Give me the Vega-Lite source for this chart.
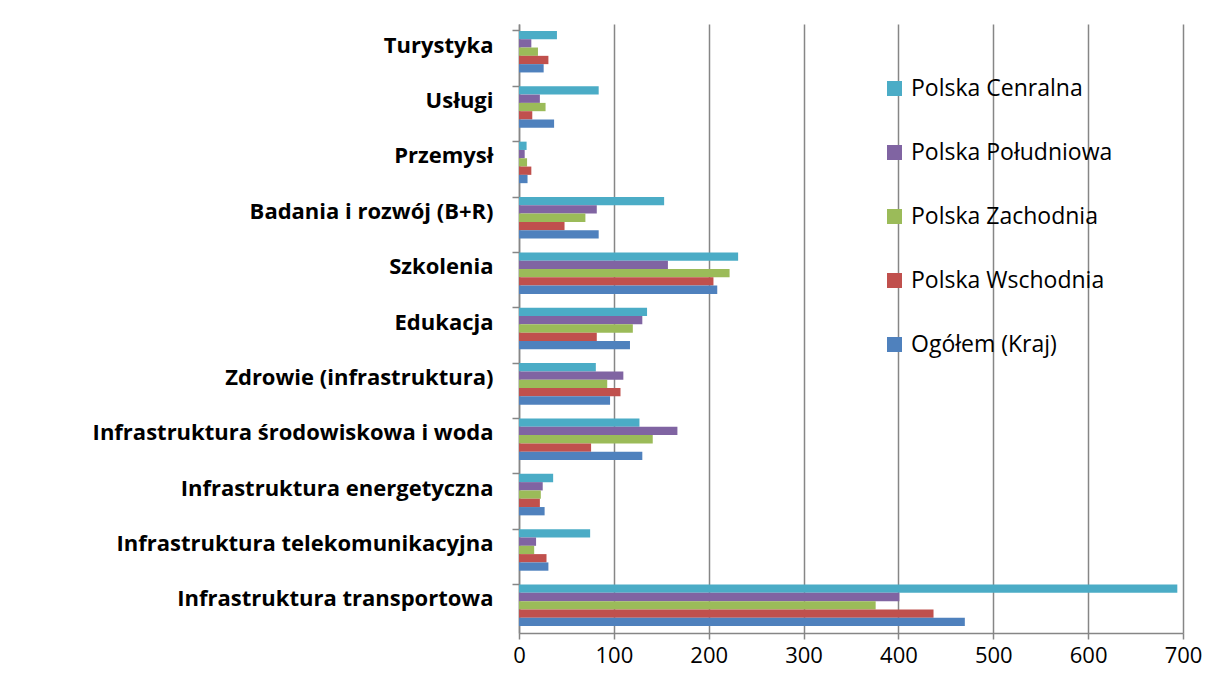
{
  "$schema": "https://vega.github.io/schema/vega-lite/v6.json",
  "width": 664,
  "height": 609,
  "autosize": "none",
  "padding": {"left": 519, "top": 24, "right": 22, "bottom": 45},
  "background": "white",
  "config": {"view": {"stroke": null}, "font": "Open Sans"},
  "data": {"values": [
    {"k": "Turystyka", "r": "Polska Cenralna", "v": 40},
    {"k": "Turystyka", "r": "Polska Południowa", "v": 13},
    {"k": "Turystyka", "r": "Polska Zachodnia", "v": 20},
    {"k": "Turystyka", "r": "Polska Wschodnia", "v": 31},
    {"k": "Turystyka", "r": "Ogółem (Kraj)", "v": 26},
    {"k": "Usługi", "r": "Polska Cenralna", "v": 84},
    {"k": "Usługi", "r": "Polska Południowa", "v": 22},
    {"k": "Usługi", "r": "Polska Zachodnia", "v": 28},
    {"k": "Usługi", "r": "Polska Wschodnia", "v": 14},
    {"k": "Usługi", "r": "Ogółem (Kraj)", "v": 37},
    {"k": "Przemysł", "r": "Polska Cenralna", "v": 8},
    {"k": "Przemysł", "r": "Polska Południowa", "v": 6},
    {"k": "Przemysł", "r": "Polska Zachodnia", "v": 8.5},
    {"k": "Przemysł", "r": "Polska Wschodnia", "v": 13},
    {"k": "Przemysł", "r": "Ogółem (Kraj)", "v": 9},
    {"k": "Badania i rozwój (B+R)", "r": "Polska Cenralna", "v": 153},
    {"k": "Badania i rozwój (B+R)", "r": "Polska Południowa", "v": 82},
    {"k": "Badania i rozwój (B+R)", "r": "Polska Zachodnia", "v": 70},
    {"k": "Badania i rozwój (B+R)", "r": "Polska Wschodnia", "v": 48},
    {"k": "Badania i rozwój (B+R)", "r": "Ogółem (Kraj)", "v": 84},
    {"k": "Szkolenia", "r": "Polska Cenralna", "v": 231},
    {"k": "Szkolenia", "r": "Polska Południowa", "v": 157},
    {"k": "Szkolenia", "r": "Polska Zachodnia", "v": 222},
    {"k": "Szkolenia", "r": "Polska Wschodnia", "v": 205},
    {"k": "Szkolenia", "r": "Ogółem (Kraj)", "v": 209},
    {"k": "Edukacja\u00a0", "r": "Polska Cenralna", "v": 135},
    {"k": "Edukacja\u00a0", "r": "Polska Południowa", "v": 130},
    {"k": "Edukacja\u00a0", "r": "Polska Zachodnia", "v": 120},
    {"k": "Edukacja\u00a0", "r": "Polska Wschodnia", "v": 82},
    {"k": "Edukacja\u00a0", "r": "Ogółem (Kraj)", "v": 117},
    {"k": "Zdrowie (infrastruktura)", "r": "Polska Cenralna", "v": 81},
    {"k": "Zdrowie (infrastruktura)", "r": "Polska Południowa", "v": 110},
    {"k": "Zdrowie (infrastruktura)", "r": "Polska Zachodnia", "v": 93},
    {"k": "Zdrowie (infrastruktura)", "r": "Polska Wschodnia", "v": 107},
    {"k": "Zdrowie (infrastruktura)", "r": "Ogółem (Kraj)", "v": 96},
    {"k": "Infrastruktura środowiskowa i woda", "r": "Polska Cenralna", "v": 127},
    {"k": "Infrastruktura środowiskowa i woda", "r": "Polska Południowa", "v": 167},
    {"k": "Infrastruktura środowiskowa i woda", "r": "Polska Zachodnia", "v": 141},
    {"k": "Infrastruktura środowiskowa i woda", "r": "Polska Wschodnia", "v": 76},
    {"k": "Infrastruktura środowiskowa i woda", "r": "Ogółem (Kraj)", "v": 130},
    {"k": "Infrastruktura energetyczna", "r": "Polska Cenralna", "v": 36},
    {"k": "Infrastruktura energetyczna", "r": "Polska Południowa", "v": 25},
    {"k": "Infrastruktura energetyczna", "r": "Polska Zachodnia", "v": 23},
    {"k": "Infrastruktura energetyczna", "r": "Polska Wschodnia", "v": 22},
    {"k": "Infrastruktura energetyczna", "r": "Ogółem (Kraj)", "v": 27},
    {"k": "Infrastruktura telekomunikacyjna", "r": "Polska Cenralna", "v": 75},
    {"k": "Infrastruktura telekomunikacyjna", "r": "Polska Południowa", "v": 18},
    {"k": "Infrastruktura telekomunikacyjna", "r": "Polska Zachodnia", "v": 16},
    {"k": "Infrastruktura telekomunikacyjna", "r": "Polska Wschodnia", "v": 29},
    {"k": "Infrastruktura telekomunikacyjna", "r": "Ogółem (Kraj)", "v": 31},
    {"k": "Infrastruktura transportowa", "r": "Polska Cenralna", "v": 694},
    {"k": "Infrastruktura transportowa", "r": "Polska Południowa", "v": 401},
    {"k": "Infrastruktura transportowa", "r": "Polska Zachodnia", "v": 376},
    {"k": "Infrastruktura transportowa", "r": "Polska Wschodnia", "v": 437},
    {"k": "Infrastruktura transportowa", "r": "Ogółem (Kraj)", "v": 470}
  ]},
  "mark": {"type": "bar"},
  "encoding": {
    "y": {
      "field": "k", "type": "nominal",
      "sort": ["Turystyka", "Usługi", "Przemysł", "Badania i rozwój (B+R)", "Szkolenia", "Edukacja\u00a0", "Zdrowie (infrastruktura)", "Infrastruktura środowiskowa i woda", "Infrastruktura energetyczna", "Infrastruktura telekomunikacyjna", "Infrastruktura transportowa"],
      "scale": {"paddingInner": 0.25, "paddingOuter": 0.125},
      "axis": {
        "title": null,
        "bandPosition": 0,
        "domainColor": "#868686", "domainWidth": 1.5,
        "tickColor": "#868686", "tickWidth": 1.5, "tickSize": 7,
        "labelFont": "Open Sans", "labelFontWeight": "bold", "labelFontSize": 22,
        "labelColor": "#000000", "labelPadding": 19, "labelLimit": 500,
        "labelOffset": -6,
        "grid": false
      }
    },
    "yOffset": {
      "field": "r", "type": "nominal",
      "sort": ["Polska Cenralna", "Polska Południowa", "Polska Zachodnia", "Polska Wschodnia", "Ogółem (Kraj)"]
    },
    "x": {
      "field": "v", "type": "quantitative",
      "scale": {"domain": [0, 700], "nice": false},
      "axis": {
        "title": null,
        "values": [0, 100, 200, 300, 400, 500, 600, 700],
        "grid": true, "gridColor": "#868686", "gridWidth": 1.5,
        "domainColor": "#868686", "domainWidth": 1.5,
        "tickColor": "#868686", "tickWidth": 1.5, "tickSize": 6,
        "labelFont": "Open Sans", "labelFontSize": 22, "labelColor": "#000000",
        "labelPadding": 6, "labelFlush": false
      }
    },
    "color": {
      "field": "r", "type": "nominal",
      "scale": {
        "domain": ["Polska Cenralna", "Polska Południowa", "Polska Zachodnia", "Polska Wschodnia", "Ogółem (Kraj)"],
        "range": ["#4BACC6", "#8064A2", "#9BBB59", "#C0504D", "#4F81BD"]
      },
      "legend": {
        "title": null,
        "orient": "none",
        "legendX": 364,
        "legendY": 53,
        "padding": 0,
        "symbolType": "square",
        "symbolSize": 225,
        "symbolStrokeWidth": 0,
        "symbolOpacity": 1,
        "labelFont": "Open Sans",
        "labelFontSize": 23,
        "labelColor": "#000000",
        "labelOffset": 5,
        "rowPadding": 40,
        "labelLimit": 400
      }
    }
  }
}
